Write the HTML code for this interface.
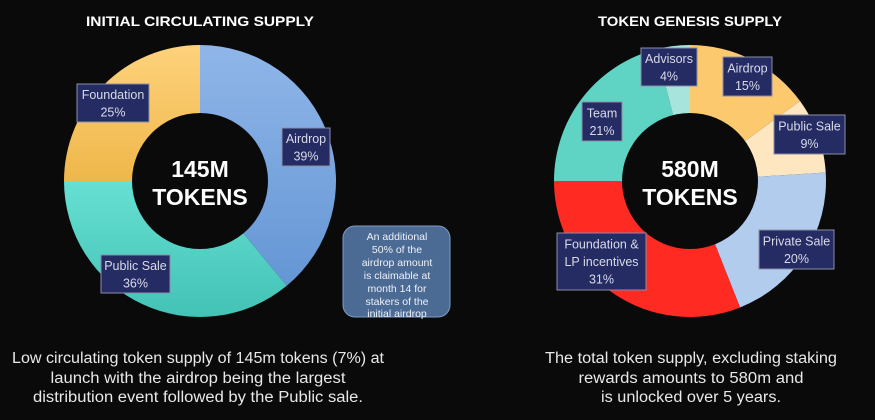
<!DOCTYPE html>
<html><head><meta charset="utf-8"><style>
html,body{margin:0;padding:0;background:#0a0a0b;}
svg{display:block;font-family:"Liberation Sans",sans-serif;}
</style></head><body>
<svg id="c" width="875" height="420" viewBox="0 0 875 420">
<defs>
<linearGradient id="gA" x1="0" y1="0" x2="0" y2="1"><stop offset="0" stop-color="#90b6e9"/><stop offset="1" stop-color="#6496d4"/></linearGradient>
<linearGradient id="gP" x1="0" y1="0" x2="0" y2="1"><stop offset="0" stop-color="#66e0d2"/><stop offset="1" stop-color="#43c2b6"/></linearGradient>
<linearGradient id="gF" x1="0" y1="0" x2="0" y2="1"><stop offset="0" stop-color="#fed27c"/><stop offset="1" stop-color="#efb74a"/></linearGradient>
</defs>
<rect width="875" height="420" fill="#0a0a0b"/>
<text x="200" y="26" text-anchor="middle" fill="#fff" font-weight="bold" font-size="14" textLength="228" lengthAdjust="spacingAndGlyphs">INITIAL CIRCULATING SUPPLY</text>
<text x="690" y="26" text-anchor="middle" fill="#fff" font-weight="bold" font-size="14" textLength="184" lengthAdjust="spacingAndGlyphs">TOKEN GENESIS SUPPLY</text>
<g id="left"></g><g id="right"></g>
<g>
<rect x="343" y="226" width="107" height="91" rx="12" fill="#4b6a94" stroke="#7f9cc4" stroke-width="1"/>
<g fill="#eef2f8" font-size="10.5" text-anchor="middle">
<text x="397" y="240">An additional</text><text x="397" y="253">50% of the</text><text x="397" y="266">airdrop amount</text><text x="397" y="279">is claimable at</text><text x="397" y="292">month 14 for</text><text x="397" y="305">stakers of the</text><text x="397" y="317">initial airdrop</text>
</g></g>
<g fill="#e8e8e8" font-size="15.5" text-anchor="middle">
<text x="198" y="363" textLength="372" lengthAdjust="spacingAndGlyphs">Low circulating token supply of 145m tokens (7%) at</text>
<text x="198" y="383" textLength="295" lengthAdjust="spacingAndGlyphs">launch with the airdrop being the largest</text>
<text x="198" y="402" textLength="330" lengthAdjust="spacingAndGlyphs">distribution event followed by the Public sale.</text>
</g>
<g fill="#e8e8e8" font-size="15.5" text-anchor="middle">
<text x="691" y="363" textLength="292" lengthAdjust="spacingAndGlyphs">The total token supply, excluding staking</text>
<text x="691" y="383" textLength="225" lengthAdjust="spacingAndGlyphs">rewards amounts to 580m and</text>
<text x="691" y="402" textLength="180" lengthAdjust="spacingAndGlyphs">is unlocked over 5 years.</text>
</g>
</svg>
<script>
const leftCats=["Airdrop","Public Sale","Foundation"];
const leftVals=[39,36,25];
const leftColors=["url(#gA)","url(#gP)","url(#gF)"];
const rightCats=["Airdrop","Public Sale","Private Sale","Foundation & LP incentives","Team","Advisors"];
const rightVals=[15,9,20,31,21,4];
const rightColors=["#fdc96e","#fde6c0","#b2cced","#ff2a22","#5fd4c4","#a6e4dc"];
const NS="http://www.w3.org/2000/svg";
function mk(t,a,p){const e=document.createElementNS(NS,t);for(const k in a)e.setAttribute(k,a[k]);p.appendChild(e);return e;}
function pt(cx,cy,r,a){return [cx+r*Math.sin(a),cy-r*Math.cos(a)];}
function donut(g,cx,cy,R,r,vals,cols,cats,boxes,center){
 const tot=vals.reduce((s,v)=>s+v,0);let a0=0;
 vals.forEach((v,i)=>{
  const a1=a0+v/tot*2*Math.PI;const [x0,y0]=pt(cx,cy,R,a0),[x1,y1]=pt(cx,cy,R,a1);
  const la=(a1-a0)>Math.PI?1:0;
  const p=mk("path",{d:`M${cx},${cy}L${x0},${y0}A${R},${R} 0 ${la} 1 ${x1},${y1}Z`,fill:cols[i]},g);
  
  
  a0=a1;
 });
 const c=mk("circle",{cx:cx,cy:cy,r:r,fill:"#0a0a0b"},g);
 
 
 const t1=mk("text",{x:cx,y:cy-4,"text-anchor":"middle",fill:"#fff","font-weight":"bold","font-size":"23"},g);t1.textContent=center;
 
 
 const t2=mk("text",{x:cx,y:cy+24,"text-anchor":"middle",fill:"#fff","font-weight":"bold","font-size":"23"},g);t2.textContent="TOKENS";
 
 
 vals.forEach((v,i)=>{
  const b=boxes[i];const lg=mk("g",{},g);
  
  
  mk("rect",{x:b[0],y:b[1],width:b[2]-b[0],height:b[3]-b[1],fill:"#252b63",stroke:"#8a8fa8","stroke-width":"1"},lg);
  const lines=b[4].concat([v+"%"]);const mx=(b[0]+b[2])/2;const h=b[3]-b[1];const lh=17.5;
  const st=b[1]+h/2-(lines.length-1)*lh/2+4.5;
  lines.forEach((s,j)=>{const t=mk("text",{x:mx,y:st+j*lh,"text-anchor":"middle",fill:"#d8dae8","font-size":"12.5"},lg);t.textContent=s;});
 });
}
donut(document.getElementById("left"),200,181,136,68,leftVals,leftColors,leftCats,[
 [282,128,330,166,["Airdrop"]],[101,255,170,293,["Public Sale"]],[77,84,149,122,["Foundation"]]],"145M");
donut(document.getElementById("right"),690,181,136,68,rightVals,rightColors,rightCats,[
 [723,57,772,96,["Airdrop"]],[774,115,845,154,["Public Sale"]],[759,230,834,269,["Private Sale"]],
 [557,233,646,290,["Foundation &","LP incentives"]],[582,102,622,141,["Team"]],[641,48,697,86,["Advisors"]]],"580M");
</script>
</body></html>
